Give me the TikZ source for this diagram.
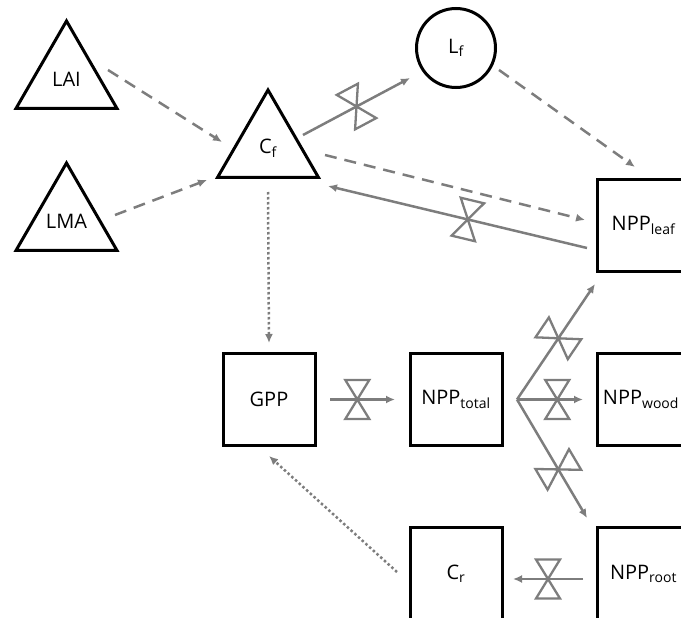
\documentclass[tikz,border=0pt]{standalone}
\usepackage{fontspec}
\setmainfont{Open Sans}
\usepackage{tikz}
\usetikzlibrary{shapes.geometric,arrows.meta,calc}
\definecolor{flowgray}{RGB}{125,125,125}
\newcommand\labelfont{\fontsize{20}{24}\selectfont}

\begin{document}
\begin{tikzpicture}[x=1pt, y=-1pt,
  pool/.style={draw, line width=3pt, minimum width=92pt, minimum height=92pt, inner sep=0pt, font=\labelfont},
  driver/.style={draw, line width=3pt, regular polygon, regular polygon sides=3, minimum size=116.6pt, inner sep=0pt, font=\labelfont},
  state/.style={draw, line width=3pt, circle, minimum size=79pt, inner sep=0pt, font=\labelfont},
  flow/.style={flowgray, line width=2.5pt, -{Latex[length=9pt,width=8pt]}},
  info/.style={flow, dash pattern=on 12pt off 8pt},
  ctrl/.style={flow, dash pattern=on 2.5pt off 2.5pt},
  valve/.pic={\draw[-, solid, flowgray, line width=2.3pt, line join=miter]
    (-12,-19.5) -- (12,-19.5) -- (0,0) -- cycle
    (-12,19.5) -- (12,19.5) -- (0,0) -- cycle;}]
\useasboundingbox (0,0) rectangle (681,618);
\clip (0,0) rectangle (681,618);
\node[driver] (LAI) at (66.5,79.3) {LAI};
\node[driver] (LMA) at (66.5,221.3) {LMA};
\node[driver] (Cf) at (268,148.3) {C\textsubscript{f}};
\node[state] (Lf) at (456,48) {L\textsubscript{f}};
\node[pool] (leaf) at (643.5,225.5) {NPP\textsubscript{leaf}};
\node[pool] (GPP) at (269,399.5) {GPP};
\node[pool] (total) at (456,399.5) {NPP\textsubscript{total}};
\node[pool] (wood) at (643.5,399.5) {NPP\textsubscript{wood}\kern5pt};
\node[pool] (Cr) at (456,573.5) {C\textsubscript{r}};
\node[pool] (root) at (643.5,573.5) {NPP\textsubscript{root}};
\coordinate (fork) at ($(total)+(61,0)$);

\draw[info] ($(LAI)+(41.5,-9.3)$) -- ($(Cf)+(-46,-6.3)$);
\draw[info] ($(LMA)+(48.5,-6.3)$) -- ($(Cf)+(-61,31.7)$);
\draw[flow] ($(Cf)+(35,-13.3)$) -- pic[pos=0.5, sloped]{valve} ($(Lf)+(-46,30)$);
\draw[info] ($(Cf)+(57,6.7)$) -- ($(leaf)+(-58.5,-5.5)$);
\draw[info] ($(Lf)+(43,22)$) -- ($(leaf)+(-8.5,-58.5)$);
\draw[flow] ($(leaf)+(-56.5,22.5)$) -- pic[pos=0.46, sloped]{valve} ($(Cf)+(60,37.7)$);
\draw[ctrl] ($(Cf)+(0,43.7)$) -- ($(GPP)+(0,-56.5)$);
\draw[flow] ($(GPP)+(61,0)$) -- pic[pos=0.42, sloped]{valve} ($(total)+(-61,0)$);
\draw[flow] (fork) -- pic[pos=0.53, sloped]{valve} ($(leaf)+(-48.5,58.5)$);
\draw[flow] (fork) -- pic[pos=0.61, sloped]{valve} ($(wood)+(-60.5,0)$);
\draw[flow] (fork) -- pic[pos=0.59, sloped]{valve} ($(root)+(-56.5,-55.5)$);
\draw[flow] ($(root)+(-60.5,5.5)$) -- pic[pos=0.5, sloped]{valve} ($(Cr)+(57,5.5)$);
\draw[ctrl] ($(Cr)+(-59,-1.5)$) -- ($(GPP)+(0,56.5)$);
\end{tikzpicture}
\end{document}
